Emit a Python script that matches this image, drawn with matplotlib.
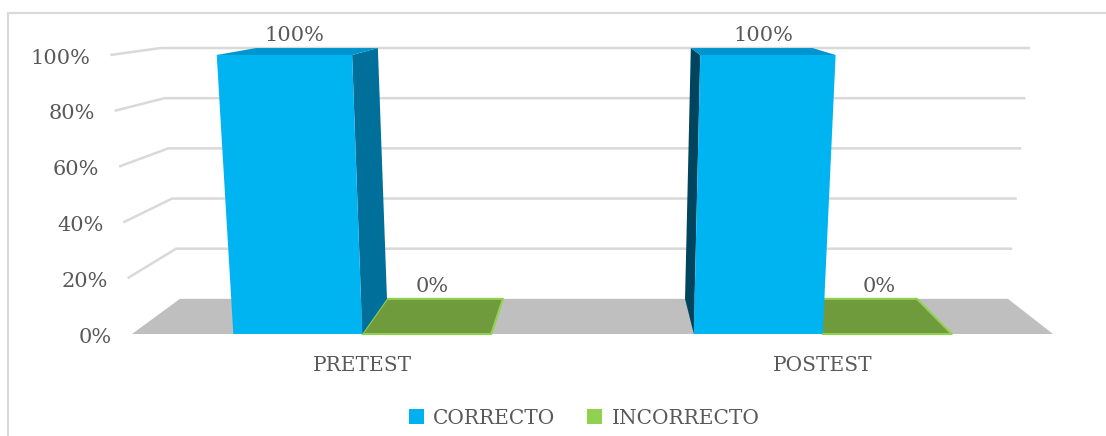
import numpy as np
import matplotlib.pyplot as plt
from matplotlib.patches import Polygon, Patch

categories = ["PRETEST", "POSTEST"]
series_names = ["CORRECTO", "INCORRECTO"]
correcto = [100, 100]
incorrecto = [0, 0]
y_ticks = [0, 20, 40, 60, 80, 100]

# pixel-space projection of the Excel 3D chart
W, H = 1106, 436
FLOOR_L, FLOOR_R = 132, 1053
FLOOR_Y, TOP_Y = 334, 55
VP = (607.0, -14.0)      # depth vanishing point
DEPTH = 0.101            # shrink of the back plane
VC, VK = 565.0, 0.05     # vertical lines converge downward
BAR_W = 0.28

TXT = "#595959"
GRID = "#d9d9d9"
FONT = "DejaVu Serif"


def proj(u, v, d):
    x0 = FLOOR_L + (u + 0.5) * (FLOOR_R - FLOOR_L) / len(categories)
    x = VC + (1 + VK * v / 100) * (x0 - VC)
    y = FLOOR_Y - v / 100 * (FLOOR_Y - TOP_Y)
    s = 1 - DEPTH * d
    return (VP[0] + s * (x - VP[0]), VP[1] + s * (y - VP[1]))


def poly(ax, pts, fc, ec="none", lw=0, z=2):
    ax.add_patch(Polygon(pts, closed=True, facecolor=fc, edgecolor=ec,
                         linewidth=lw, zorder=z, joinstyle="round"))


def draw_box(ax, u0, u1, v, front, top, side, edge=None):
    if v <= 0:
        pts = [proj(u0, 0, 0), proj(u1, 0, 0), proj(u1, 0, 1), proj(u0, 0, 1)]
        poly(ax, pts, top, edge or "none", 1.5 if edge else 0, z=3)
        return
    if proj(u1, 0, 0)[0] < VP[0]:
        poly(ax, [proj(u1, 0, 0), proj(u1, v, 0), proj(u1, v, 1), proj(u1, 0, 1)], side, z=4)
    if proj(u0, 0, 0)[0] > VP[0]:
        poly(ax, [proj(u0, 0, 0), proj(u0, v, 0), proj(u0, v, 1), proj(u0, 0, 1)], side, z=4)
    poly(ax, [proj(u0, v, 0), proj(u1, v, 0), proj(u1, v, 1), proj(u0, v, 1)], top, z=4)
    poly(ax, [proj(u0, 0, 0), proj(u1, 0, 0), proj(u1, v, 0), proj(u0, v, 0)], front, z=5)


fig = plt.figure(figsize=(W / 100, H / 100), dpi=100)
ax = fig.add_axes([0, 0, 1, 1])
ax.set_xlim(0, W)
ax.set_ylim(H, 0)
ax.axis("off")

# chart frame
ax.plot([8, 8, W + 5], [H + 5, 13, 13], color=GRID, lw=1.5, zorder=1)

# floor
lo, hi = -0.5, len(categories) - 0.5
poly(ax, [proj(lo, 0, 0), proj(hi, 0, 0), proj(hi, 0, 1), proj(lo, 0, 1)], "#bfbfbf", z=1)

# gridlines on side and back walls + tick labels
for v in y_ticks:
    if v > 0:
        a, b, c = proj(lo, v, 0), proj(lo, v, 1), proj(hi, v, 1)
        ax.plot([a[0], b[0], c[0]], [a[1], b[1], c[1]], color=GRID, lw=1.8, zorder=1,
                solid_capstyle="butt")
    fx, fy = proj(lo, v, 0)
    ax.text(fx - 20, fy + 3, f"{v}%", ha="right", va="center", fontsize=15,
            color=TXT, family=FONT)

# bars: zero-height ones first, then tall ones
for i, cat in enumerate(categories):
    draw_box(ax, i, i + BAR_W, incorrecto[i], "#92d050", "#6f9b3d", "#5a7f30", edge="#92d050")
for i, cat in enumerate(categories):
    draw_box(ax, i - BAR_W, i, correcto[i], "#00b4f2", "#0095cf",
             "#00709a" if i == 0 else "#00445e")

# value labels
for i in range(len(categories)):
    for u0, val in [(i - BAR_W, correcto[i]), (i, incorrecto[i])]:
        uc = u0 + BAR_W / 2
        x = proj(uc, val, 0.3)[0]
        y = proj(uc, val, 1)[1] - 3
        ax.text(x, y, f"{val}%", ha="center", va="bottom", fontsize=15,
                color=TXT, family=FONT, zorder=6)
    cx = proj(i, 0, 0)[0]
    ax.text(cx, FLOOR_Y + 31, categories[i], ha="center", va="center", fontsize=14.5,
            color=TXT, family=FONT)

handles = [Patch(facecolor="#00b0f0", label=series_names[0]),
           Patch(facecolor="#92d050", label=series_names[1])]
fig.legend(handles=handles, loc="center", bbox_to_anchor=(584 / W, 1 - 418 / H),
           ncol=2, frameon=False, handlelength=0.75, handleheight=0.75,
           handletextpad=0.45, columnspacing=1.6,
           prop={"family": FONT, "size": 14.5}, labelcolor=TXT)

fig.savefig("out.png", dpi=100)
